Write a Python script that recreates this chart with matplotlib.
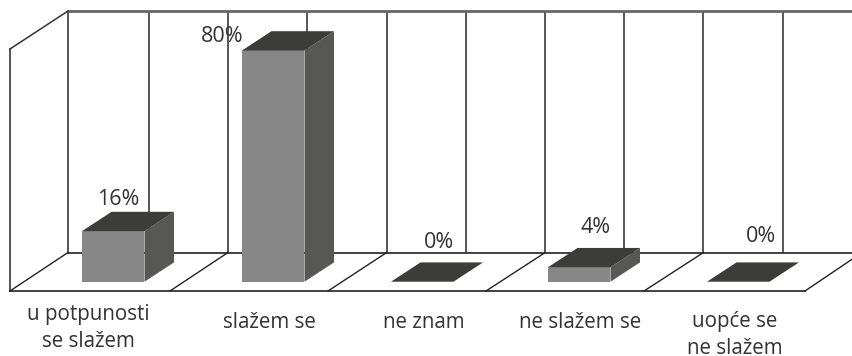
import matplotlib
matplotlib.use("Agg")
import matplotlib.pyplot as plt
from matplotlib.patches import Polygon

categories = ["u potpunosti\nse slažem", "slažem se", "ne znam", "ne slažem se", "uopće se\nne slažem"]
value_labels = ["16%", "80%", "0%", "4%", "0%"]
bar_heights = [17.5, 80, 0, 5, 0]   # heights as drawn in the picture, on the 80% scale

PX_CAT, PX_PCT = 159.0, 2.89
X0, Y0 = 10.0, 281.7
W, H = 853, 356

def ux(px): return (px - X0) / PX_CAT
def uy(py): return (Y0 - py) / PX_PCT

fig = plt.figure(figsize=(W / 100, H / 100), dpi=100)
ax = fig.add_axes([0, 0, 1, 1])
ax.set_xlim(ux(0), ux(W))
ax.set_ylim(uy(H), uy(0))
ax.axis("off")

# wall / floor frame
wall_top, wall_front_top = uy(11), uy(49)
floor_front, floor_back = uy(291), uy(252.5)
GRID = "#3a3a3a"
grid_px = [68, 149, 228, 307.3, 386.7, 466, 545.2, 624.4, 703.5, 783]
for px in grid_px:
    x = ux(px)
    ax.plot([x, x], [floor_back, wall_top], color=GRID, lw=1.2, zorder=1, solid_capstyle="butt")
ax.plot([ux(68), ux(W)], [wall_top, wall_top], color="#666666", lw=2.0, zorder=1)
ax.plot([ux(10), ux(10)], [floor_front, wall_front_top], color=GRID, lw=1.2, zorder=1)
ax.plot([ux(10), ux(68)], [wall_front_top, wall_top], color="#333333", lw=1.1, zorder=1)
ax.plot([ux(68), ux(W)], [floor_back, floor_back], color="#333333", lw=1.3, zorder=1.6)
ax.plot([ux(10), ux(805)], [floor_front, floor_front], color="#333333", lw=1.3, zorder=1.6)
front_px = [10, 170, 328, 486, 644, 805]
back_px = [68, 228, 386.7, 545.2, 703.5, 862]
for f, b in zip(front_px, back_px):
    ax.plot([ux(f), ux(b)], [floor_front, floor_back], color="#222222", lw=1.0, zorder=1.6)

# bars
bar_left_px = [82, 242, 391, 548, 707]
bar_w = 62.5 / PX_CAT
dx, dy = 29.5 / PX_CAT, 19.3 / PX_PCT
FRONT, SIDE, TOP = "#878787", "#575755", "#3c3c3a"
for i, h in enumerate(bar_heights):
    x = ux(bar_left_px[i])
    ax.add_patch(Polygon([(x, 0), (x + bar_w, 0), (x + bar_w, h), (x, h)], fc=FRONT, ec="none", zorder=3))
    ax.add_patch(Polygon([(x + bar_w, 0), (x + bar_w + dx, dy), (x + bar_w + dx, h + dy), (x + bar_w, h)],
                         fc=SIDE, ec="none", zorder=3))
    ax.add_patch(Polygon([(x, h), (x + bar_w, h), (x + bar_w + dx, h + dy), (x + dx, h + dy)],
                         fc=TOP, ec="none", zorder=3))

# value labels
FONT = "Open Sans"
label_px = [(118, 199.5), (222.5, 36.5), (439.5, 242.5), (595.5, 227.5), (761.5, 236.5)]
for (px, py), t in zip(label_px, value_labels):
    ax.text(ux(px), uy(py), t, ha="center", va="center", fontsize=15.5, color="#333333",
            family=FONT, zorder=5)

# category labels
cat_px = [(88, 328), (269, 322), (424, 322), (580, 322), (735, 334.5)]
for (px, py), t in zip(cat_px, categories):
    ax.text(ux(px), uy(py), t, ha="center", va="center", fontsize=14.8, color="#333333",
            family=FONT, linespacing=1.375, zorder=5)

fig.savefig("out.png", dpi=100)
